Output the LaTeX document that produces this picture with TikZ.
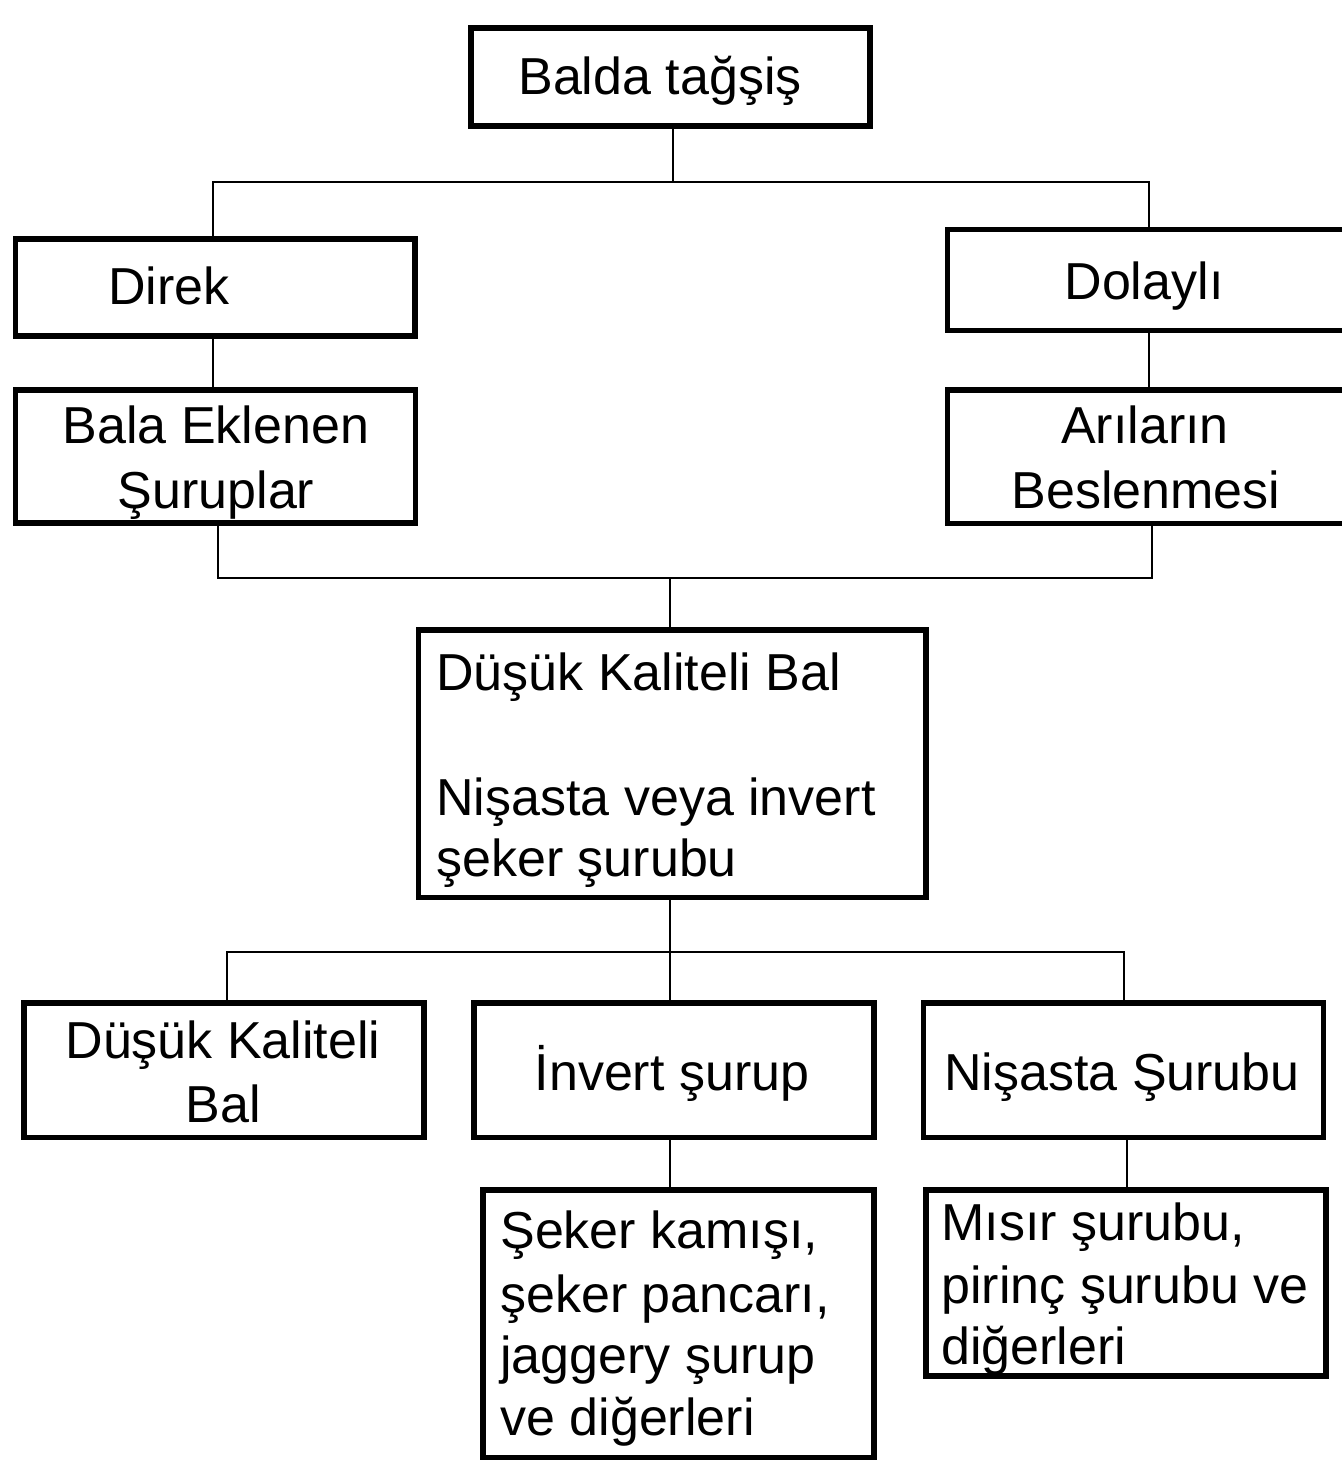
\documentclass[tikz,border=0pt]{standalone}
\usepackage{fontspec}
\setmainfont{Liberation Sans}
\usetikzlibrary{fit}
\begin{document}
\begin{tikzpicture}[x=0.02cm,y=-0.02cm,
  box/.style={draw, line width=3pt, inner sep=0pt, fill=white},
  conn/.style={line width=1.3pt},
  txt/.style={inner sep=0pt, font=\fontsize{29.6}{35}\selectfont}]
\useasboundingbox (0,0) rectangle (1342,1461);
\clip (0,0) rectangle (1342,1461);
\fill[white] (0,0) rectangle (1342,1461);

% junction coordinates
\coordinate (j0) at (673,182);
\coordinate (jl) at (213,182);
\coordinate (jr) at (1149,182);
\coordinate (k1) at (218,578);
\coordinate (k2) at (1152,578);
\coordinate (k3) at (670,578);
\coordinate (m1) at (227,952);
\coordinate (m2) at (1124,952);
\coordinate (m3) at (670,952);
\coordinate (n1) at (670,1165);
\coordinate (n2) at (1127,1165);

% boxes
\node[box, fit={(471,28) (870,126)}] (top) {};
\node[box, fit={(15.5,239) (415,336)}] (direk) {};
\node[box, fit={(947.5,229.5) (1370,330.5)}] (dolayli) {};
\node[box, fit={(15.5,390) (415.5,523)}] (bala) {};
\node[box, fit={(947.5,390) (1370,523.5)}] (arilar) {};
\node[box, fit={(418.5,630) (926,897.5)}] (dusuk) {};
\node[box, fit={(24,1003) (424,1137.5)}] (dusukb) {};
\node[box, fit={(474,1003) (874,1137.5)}] (invert) {};
\node[box, fit={(923.5,1003) (1323.5,1137.5)}] (nisasta) {};
\node[box, fit={(483,1190) (874,1457.5)}] (seker) {};
\node[box, fit={(926,1190) (1326,1376)}] (misir) {};

% connectors
\draw[conn] (top.south -| j0) -- (j0);
\draw[conn] (direk.north -| jl) -- (jl) -- (jr) -- (dolayli.north -| jr);
\draw[conn] (direk.south -| jl) -- (bala.north -| jl);
\draw[conn] (dolayli.south -| jr) -- (arilar.north -| jr);
\draw[conn] (bala.south -| k1) -- (k1) -- (k2) -- (arilar.south -| k2);
\draw[conn] (k3) -- (dusuk.north -| k3);
\draw[conn] (dusuk.south -| m3) -- (invert.north -| m3);
\draw[conn] (dusukb.north -| m1) -- (m1) -- (m2) -- (nisasta.north -| m2);
\draw[conn] (invert.south -| n1) -- (seker.north -| n1);
\draw[conn] (nisasta.south -| n2) -- (misir.north -| n2);

% texts
\node[txt, anchor=base] (t1) at (660,94) {Balda tağşiş};
\node[txt, anchor=base] (t2) at (169,304) {Direk};
\node[txt, anchor=base] (t3) at (1144,299) {Dolaylı};
\node[txt, anchor=base] (t4a) at (216,443) {Bala Eklenen};
\node[txt, anchor=base] (t4b) at (216,508) {Şuruplar};
\node[txt, anchor=base] (t5a) at (1145,443) {Arıların};
\node[txt, anchor=base] (t5b) at (1146,508) {Beslenmesi};
\node[txt, anchor=base west] (t6a) at (436,690) {Düşük Kaliteli Bal};
\node[txt, anchor=base west] (t6b) at (436,815) {Nişasta veya invert};
\node[txt, anchor=base west] (t6c) at (436,876) {şeker şurubu};
\node[txt, anchor=base] (t7a) at (223,1058) {Düşük Kaliteli};
\node[txt, anchor=base] (t7b) at (223,1122) {Bal};
\node[txt, anchor=base] (t8) at (672,1090) {İnvert şurup};
\node[txt, anchor=base] (t9) at (1122,1090) {Nişasta Şurubu};
\node[txt, anchor=base west] (t10a) at (500,1248) {Şeker kamışı,};
\node[txt, anchor=base west] (t10b) at (500,1312) {şeker pancarı,};
\node[txt, anchor=base west] (t10c) at (500,1373) {jaggery şurup};
\node[txt, anchor=base west] (t10d) at (500,1435) {ve diğerleri};
\node[txt, anchor=base west] (t11a) at (941,1240) {Mısır şurubu,};
\node[txt, anchor=base west] (t11b) at (941,1303) {pirinç şurubu ve};
\node[txt, anchor=base west] (t11c) at (941,1364) {diğerleri};
\end{tikzpicture}
\end{document}
